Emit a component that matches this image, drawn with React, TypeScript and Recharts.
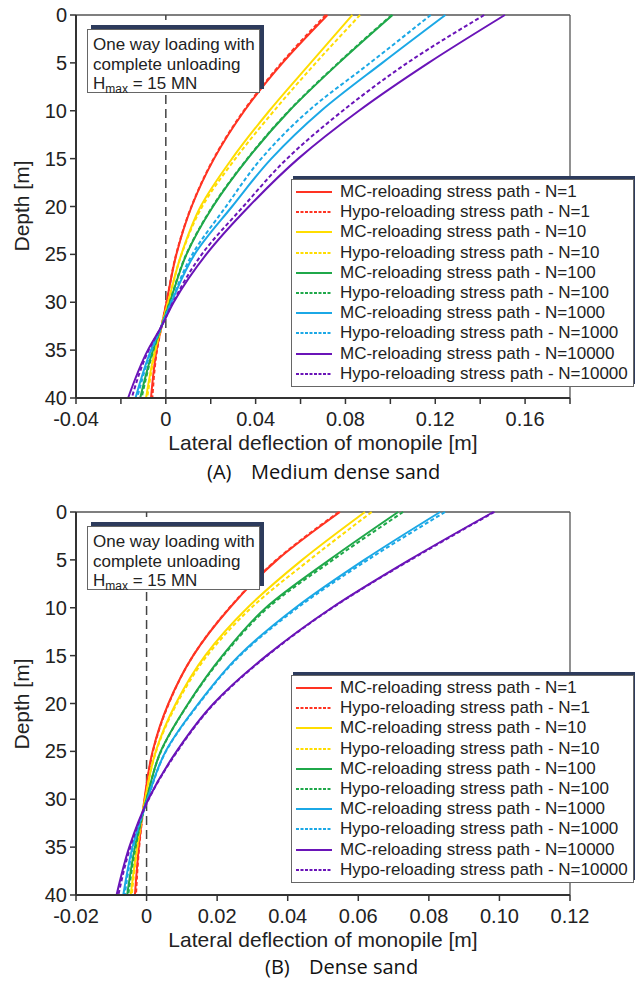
import React from 'react';
import { LineChart, Line, XAxis, YAxis, ReferenceLine } from 'recharts';

// depth [m] at which deflections were read
const DEPTH_A = [0, 5, 10, 15, 20, 25, 30, 32.5, 35, 40];
const DEPTH_B = [0, 5, 10, 15, 20, 25, 30, 35, 40];

// (A) Medium dense sand – lateral deflection [m]
const A_MC_1 = [0.072, 0.052, 0.035, 0.0215, 0.0115, 0.0047, 0.0003, -0.0019, -0.0041, -0.0066];
const A_HYPO_1 = [0.0712, 0.0515, 0.0347, 0.0213, 0.0114, 0.0046, 0.0003, -0.0019, -0.0039, -0.006];
const A_MC_10 = [0.0831, 0.0645, 0.0461, 0.0295, 0.0155, 0.0069, 0.001, -0.0019, -0.0048, -0.0088];
const A_HYPO_10 = [0.0865, 0.0668, 0.0482, 0.031, 0.0162, 0.007, 0.001, -0.0019, -0.0046, -0.0083];
const A_MC_100 = [0.101, 0.0771, 0.055, 0.0365, 0.021, 0.0092, 0.0018, -0.0019, -0.0057, -0.0114];
const A_HYPO_100 = [0.1006, 0.0768, 0.0548, 0.0363, 0.0208, 0.0091, 0.0017, -0.0019, -0.0055, -0.0108];
const A_MC_1000 = [0.1245, 0.0964, 0.0692, 0.047, 0.0295, 0.0128, 0.0025, -0.0019, -0.0066, -0.0135];
const A_HYPO_1000 = [0.118, 0.091, 0.0636, 0.0425, 0.0268, 0.0118, 0.0023, -0.0019, -0.0063, -0.0128];
const A_MC_10000 = [0.151, 0.117, 0.086, 0.059, 0.037, 0.018, 0.0035, -0.0019, -0.008, -0.0168];
const A_HYPO_10000 = [0.1418, 0.1076, 0.0788, 0.054, 0.0345, 0.016, 0.0032, -0.0019, -0.0076, -0.0152];

// (B) Dense sand
const B_MC_1 = [0.0548, 0.037, 0.0236, 0.0132, 0.0062, 0.0017, -0.0006, -0.0022, -0.0033];
const B_HYPO_1 = [0.0545, 0.0368, 0.0235, 0.0132, 0.0063, 0.0018, -0.0005, -0.0021, -0.003];
const B_MC_10 = [0.0619, 0.0441, 0.0286, 0.0166, 0.0083, 0.0026, -0.0004, -0.0027, -0.0045];
const B_HYPO_10 = [0.0638, 0.0462, 0.0297, 0.0172, 0.0086, 0.0027, -0.0004, -0.0026, -0.0042];
const B_MC_100 = [0.0713, 0.0518, 0.0338, 0.0215, 0.0118, 0.004, 0.0, -0.0033, -0.0055];
const B_HYPO_100 = [0.0727, 0.0528, 0.0344, 0.0218, 0.0119, 0.0041, 0.0, -0.0031, -0.0052];
const B_MC_1000 = [0.0832, 0.0617, 0.0422, 0.0262, 0.0147, 0.0054, 0.0002, -0.004, -0.0066];
const B_HYPO_1000 = [0.0846, 0.0627, 0.0428, 0.0265, 0.0149, 0.0055, 0.0003, -0.0038, -0.0062];
const B_MC_10000 = [0.0983, 0.0745, 0.0525, 0.034, 0.019, 0.0085, 0.0005, -0.0049, -0.0085];
const B_HYPO_10000 = [0.0986, 0.0748, 0.0527, 0.0342, 0.0192, 0.0087, 0.0006, -0.0046, -0.008];

const X_TICKS_A = [-0.04, -0.02, 0, 0.02, 0.04, 0.06, 0.08, 0.1, 0.12, 0.14, 0.16, 0.18];
const X_TICKS_B = [-0.02, 0, 0.02, 0.04, 0.06, 0.08, 0.1, 0.12];
const Y_TICKS = [0, 5, 10, 15, 20, 25, 30, 35, 40];

const CYCLES = ['1', '10', '100', '1000', '10000'];
const COLORS = ['#ff3322', '#ffdd00', '#1fa84a', '#1ba8e6', '#6a14b8'];

const SERIES = CYCLES.flatMap((n, i) => [
  { key: `mc${n}`, name: `MC-reloading stress path - N=${n}`, color: COLORS[i], dashed: false },
  { key: `hypo${n}`, name: `Hypo-reloading stress path - N=${n}`, color: COLORS[i], dashed: true },
]);

const buildRows = (depths: number[], cols: number[][]) =>
  depths.map((d, j) => {
    const row: Record<string, number> = { depth: d };
    SERIES.forEach((s, k) => { row[s.key] = cols[k][j]; });
    return row;
  });

const DATA_A = buildRows(DEPTH_A, [A_MC_1, A_HYPO_1, A_MC_10, A_HYPO_10, A_MC_100, A_HYPO_100, A_MC_1000, A_HYPO_1000, A_MC_10000, A_HYPO_10000]);
const DATA_B = buildRows(DEPTH_B, [B_MC_1, B_HYPO_1, B_MC_10, B_HYPO_10, B_MC_100, B_HYPO_100, B_MC_1000, B_HYPO_1000, B_MC_10000, B_HYPO_10000]);

const FONT = '"Liberation Sans", Arial, sans-serif';
const tickStyle = { fontSize: 20, fill: '#222', fontFamily: FONT };
const axisLine = { stroke: '#333', strokeWidth: 2 };

function Profile({ data, ticks, fmt, top, height, xMax }: {
  data: Record<string, number>[]; ticks: number[]; fmt: (v: number) => string;
  top: number; height: number; xMax: number;
}) {
  return (
    <div style={{ position: 'absolute', left: 0, top }}>
      <LineChart layout="vertical" width={635} height={height} data={data}
        margin={{ top: 15, right: 65, left: 0, bottom: 2 }}>
        <XAxis type="number" domain={[ticks[0], xMax]} ticks={ticks} tickFormatter={fmt}
          interval={0} allowDataOverflow height={38} tick={tickStyle}
          axisLine={axisLine} tickLine={{ stroke: '#333', strokeWidth: 1.5 }} tickSize={6} tickMargin={8} />
        <YAxis type="number" dataKey="depth" domain={[0, 40]} ticks={Y_TICKS}
          interval={0} width={76} tick={tickStyle} axisLine={axisLine}
          tickLine={{ stroke: '#333', strokeWidth: 1.5 }} tickSize={6} tickMargin={3} />
        <ReferenceLine y={0} stroke="#555" strokeWidth={1.3} />
        <ReferenceLine x={xMax} stroke="#555" strokeWidth={1.3} />
        <ReferenceLine x={0} stroke="#444" strokeWidth={1.5} strokeDasharray="9 5" />
        {SERIES.map((s) => (
          <Line key={s.key} type="monotone" dataKey={s.key} stroke={s.color} strokeWidth={2}
            strokeDasharray={s.dashed ? '4 2.5' : undefined} dot={false} isAnimationActive={false} />
        ))}
      </LineChart>
    </div>
  );
}

function NoteBox({ top }: { top: number }) {
  return (
    <div style={{
      position: 'absolute', left: 87, top, width: 173, height: 64, background: '#fff',
      border: '1px solid #666', boxShadow: '4px -4px 0 #2d3b5c', fontFamily: FONT,
      fontSize: 17, lineHeight: '19.5px', color: '#222', padding: '5px 0 0 5px', boxSizing: 'border-box',
    }}>
      <div>One way loading with</div>
      <div>complete unloading</div>
      <div>H<sub style={{ fontSize: 12, lineHeight: 0 }}>max</sub> = 15 MN</div>
    </div>
  );
}

function LegendBox({ top }: { top: number }) {
  return (
    <div style={{
      position: 'absolute', left: 291, top, width: 343, height: 208, background: '#fff',
      border: '1px solid #666', boxShadow: '2px -3px 0 #2d3b5c', boxSizing: 'border-box',
      fontFamily: FONT, fontSize: 17, color: '#222', paddingTop: 2,
    }}>
      {SERIES.map((s) => (
        <div key={s.key} style={{ height: 20.2, display: 'flex', alignItems: 'center' }}>
          <svg width={48} height={10} style={{ flex: 'none' }}>
            <line x1={4} x2={40} y1={5} y2={5} stroke={s.color} strokeWidth={2}
              strokeDasharray={s.dashed ? '3 1.5' : undefined} />
          </svg>
          <span style={{ whiteSpace: 'nowrap' }}>{s.name}</span>
        </div>
      ))}
    </div>
  );
}

const axisTitle: React.CSSProperties = {
  position: 'absolute', fontFamily: FONT, fontSize: 21, color: '#222', whiteSpace: 'nowrap',
};

function DepthLabel({ cy }: { cy: number }) {
  return (
    <div style={{ ...axisTitle, left: 22, top: cy, transform: 'translate(-50%, -50%) rotate(-90deg)' }}>
      Depth [m]
    </div>
  );
}

function Caption({ top, tag, text }: { top: number; tag: string; text: string }) {
  const font = { fontFamily: '"Open Sans", sans-serif', fontSize: 20, color: '#111' };
  return (
    <div style={{ position: 'absolute', left: 0, top, width: 635, height: 30 }}>
      <span style={{ ...font, position: 'absolute', left: tag === '(A)' ? 207 : 265 }}>{tag}</span>
      <span style={{ ...font, position: 'absolute', left: tag === '(A)' ? 251 : 309 }}>{text}</span>
    </div>
  );
}

const fmtA = (v: number) => (Math.round(v * 100) % 4 === 0 ? (v === 0 ? '0' : v.toFixed(2)) : '');
const fmtB = (v: number) => (v === 0 ? '0' : v.toFixed(2));

export default function App() {
  return (
    <div style={{ position: 'absolute', left: 0, top: 0, width: 635, height: 987, background: '#fff', overflow: 'hidden' }}>
      <Profile data={DATA_A} ticks={X_TICKS_A} fmt={fmtA} top={0} height={438} xMax={0.18} />
      <NoteBox top={29} />
      <LegendBox top={179} />
      <DepthLabel cy={206} />
      <div style={{ ...axisTitle, left: 323, top: 431, transform: 'translateX(-50%)' }}>
        Lateral deflection of monopile [m]
      </div>
      <Caption top={458} tag="(A)" text="Medium dense sand" />

      <Profile data={DATA_B} ticks={X_TICKS_B} fmt={fmtB} top={497} height={438} xMax={0.12} />
      <NoteBox top={526} />
      <LegendBox top={675} />
      <DepthLabel cy={704} />
      <div style={{ ...axisTitle, left: 323, top: 928, transform: 'translateX(-50%)' }}>
        Lateral deflection of monopile [m]
      </div>
      <Caption top={953} tag="(B)" text="Dense sand" />
    </div>
  );
}
